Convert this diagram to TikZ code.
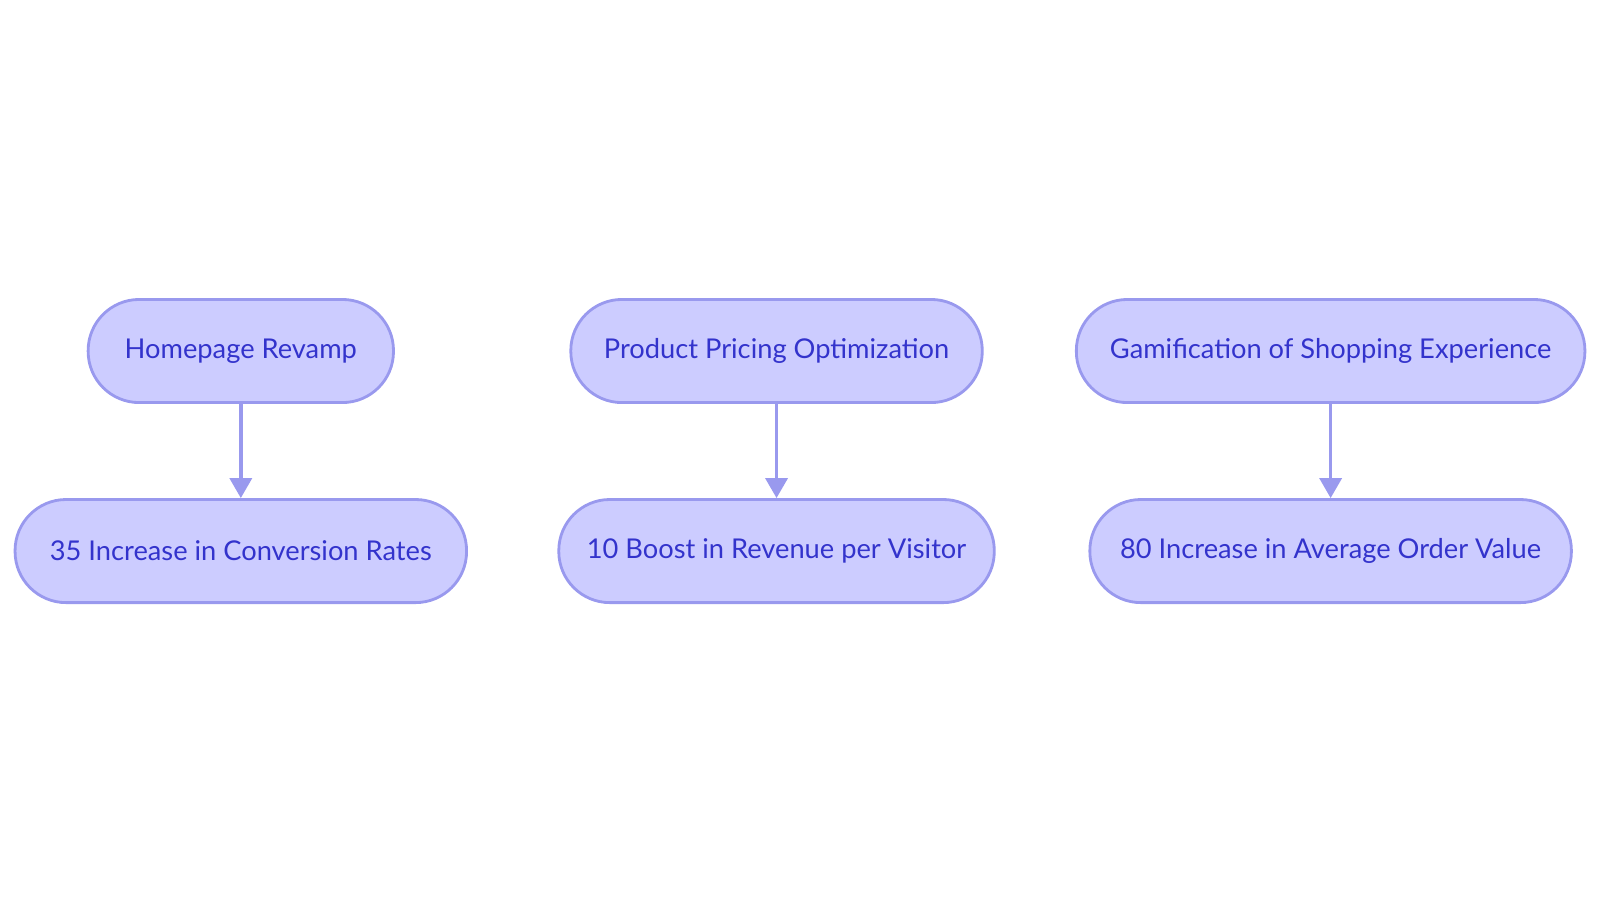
\documentclass[tikz,border=0pt]{standalone}
\usepackage{fontspec}
\setmainfont{Lato}
\definecolor{myfill}{RGB}{204,204,255}
\definecolor{myline}{RGB}{153,153,238}
\definecolor{mytext}{RGB}{51,51,204}
\usetikzlibrary{arrows.meta,positioning}

\begin{document}
\begin{tikzpicture}[
  x=0.0102cm, y=0.0102cm,
  node distance=0.94cm,
  mybox/.style={
    draw=myline,
    line width=0.8pt,
    fill=myfill,
    rounded corners=0.51cm,
    minimum height=1.03cm,
    minimum width=#1,
    text=mytext,
    font=\fontsize{7.75}{9}\selectfont
    },
  myarrow/.style={
    draw=myline,
    line width=1pt,
    -{Triangle[width=2.2mm,length=2mm]}
    }
]
\useasboundingbox (0,0) rectangle (1568,885);

\node[mybox=3.05cm] (homepage) at (236,541) {Homepage Revamp};
\node[mybox=4.11cm] (pricing) at (761,541) {Product Pricing Optimization};
\node[mybox=5.08cm] (gamification) at (1304,541) {Gamification of Shopping Experience};

\node[mybox=4.51cm] [below=of homepage] (conversion) {35 Increase in Conversion Rates};
\node[mybox=4.35cm] [below=of pricing] (revenue) {10 Boost in Revenue per Visitor};
\node[mybox=4.81cm] [below=of gamification] (ordervalue) {80 Increase in Average Order Value};

\foreach \Src/\Dst in {homepage/conversion, pricing/revenue, gamification/ordervalue}
  \draw[myarrow] (\Src) -- (\Dst);
\end{tikzpicture}
\end{document}
